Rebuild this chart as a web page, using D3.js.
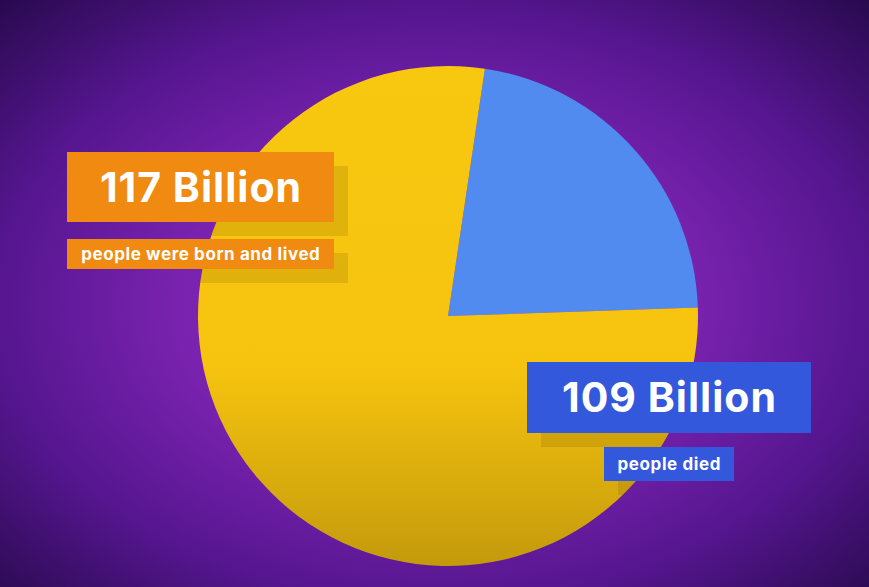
<!DOCTYPE html>
<html><head><meta charset="utf-8">
<script src="https://cdn.jsdelivr.net/npm/d3@7"></script>
<style>html,body{margin:0;padding:0;background:#2a0b52;}svg{display:block;}</style>
</head><body>
<script>
// Slice shares (percent of the circle)
const sliceNames = ["Blue", "Yellow"];
const sliceValues = [22.1, 77.9];
const sliceColors = ["#518bf0", "url(#pieGrad)"];
const startAngleDeg = 8.5;

// Label texts
const bigLabels = ["117 Billion", "109 Billion"];
const smallLabels = ["people were born and lived", "people died"];
const labelColors = ["#f08a10", "#3458dc"];

const W = 869, H = 587;
const svg = d3.select("body").append("svg").attr("width", W).attr("height", H);
const defs = svg.append("defs");

const bg = defs.append("radialGradient").attr("id", "bgGrad")
  .attr("cx", 0.5).attr("cy", 0.52).attr("r", 0.72);
[[0, "#8e2cc4"], [0.42, "#7822ae"], [0.7, "#55168f"], [1, "#280a4e"]]
  .forEach(([o, c]) => bg.append("stop").attr("offset", o).attr("stop-color", c));

const cx = 448, cy = 316, R = 250;

const pg = defs.append("linearGradient").attr("id", "pieGrad")
  .attr("gradientUnits", "userSpaceOnUse").attr("x1", 0).attr("y1", -R).attr("x2", 0).attr("y2", R);
[[0, "#f8c70f"], [0.6, "#f6c40f"], [1, "#c49a0c"]]
  .forEach(([o, c]) => pg.append("stop").attr("offset", o).attr("stop-color", c));

svg.append("rect").attr("width", W).attr("height", H).attr("fill", "url(#bgGrad)");

defs.append("clipPath").attr("id", "pieClip").append("circle")
  .attr("cx", cx).attr("cy", cy).attr("r", R);

const pie = d3.pie().sort(null)
  .startAngle(startAngleDeg * Math.PI / 180)
  .endAngle(startAngleDeg * Math.PI / 180 + 2 * Math.PI);
const arc = d3.arc().innerRadius(0).outerRadius(R);
const g = svg.append("g").attr("transform", `translate(${cx},${cy})`);
g.selectAll("path").data(pie(sliceValues)).join("path")
  .attr("d", arc).attr("fill", (d, i) => sliceColors[i]);

// label boxes
const boxes = [
  {x: 67, y: 152, w: 267, h: 70, text: bigLabels[0], size: 41, ls: 1, color: labelColors[0]},
  {x: 67, y: 239, w: 267, h: 30, text: smallLabels[0], size: 17, ls: 0.6, color: labelColors[0]},
  {x: 527, y: 362, w: 284, h: 71, text: bigLabels[1], size: 41, ls: 1, color: labelColors[1]},
  {x: 604, y: 447, w: 130, h: 34, text: smallLabels[1], size: 17, ls: 0.6, color: labelColors[1]}
];
const sh = svg.append("g").attr("clip-path", "url(#pieClip)");
sh.selectAll("rect").data(boxes).join("rect")
  .attr("x", d => d.x + 14).attr("y", d => d.y + 14)
  .attr("width", d => d.w).attr("height", d => d.h)
  .attr("fill", "#5a3a00").attr("opacity", 0.14);

const lb = svg.append("g");
lb.selectAll("rect").data(boxes).join("rect")
  .attr("x", d => d.x).attr("y", d => d.y)
  .attr("width", d => d.w).attr("height", d => d.h)
  .attr("fill", d => d.color);
lb.selectAll("text").data(boxes).join("text")
  .attr("x", d => d.x + d.w / 2 + d.ls / 2).attr("y", d => d.y + d.h / 2)
  .attr("dy", "0.36em")
  .attr("text-anchor", "middle")
  .attr("font-family", "Inter, 'Open Sans', sans-serif")
  .attr("font-weight", 700)
  .attr("font-size", d => d.size)
  .attr("letter-spacing", d => d.ls)
  .attr("fill", "#fff")
  .text(d => d.text);
</script>
</body></html>
